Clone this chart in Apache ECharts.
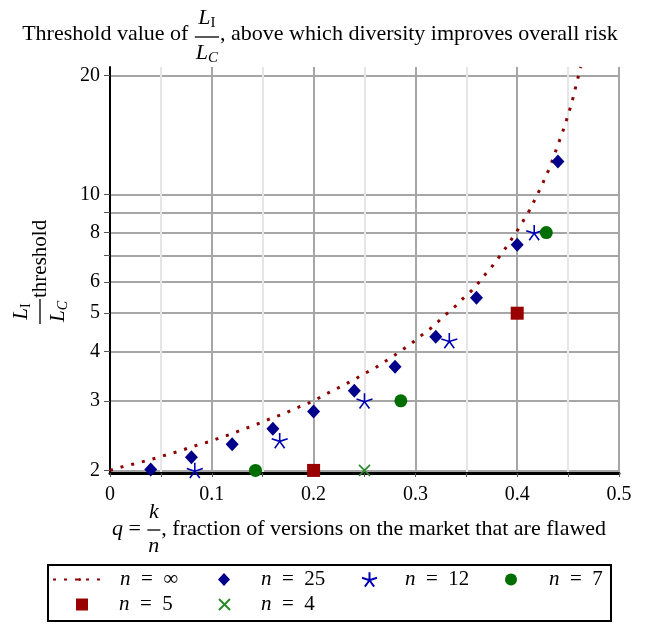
<!DOCTYPE html>
<html><head><meta charset="utf-8">
<script src="https://cdn.jsdelivr.net/npm/echarts@6/dist/echarts.min.js"></script>
<style>html,body{margin:0;padding:0;background:#fff}#c{width:646px;height:625px}</style>
</head><body><div id="c"></div>
<script>
// ---- data ----
const qInf = [0, 0.0126, 0.0234, 0.0346, 0.0447, 0.0553, 0.0661, 0.0765, 0.0873, 0.0978, 0.1084, 0.1185, 0.129, 0.1394, 0.1497, 0.160, 0.1706, 0.1807, 0.1906, 0.2004, 0.2109, 0.2207, 0.2306, 0.2404, 0.2502, 0.2601, 0.2692, 0.2788, 0.2879, 0.2965, 0.3053, 0.3142, 0.3223, 0.3306, 0.339, 0.3469, 0.3552, 0.3623, 0.3693, 0.376, 0.383, 0.3896, 0.3955, 0.4017, 0.4073, 0.4131, 0.4181, 0.423, 0.4275, 0.4319, 0.4357, 0.4393, 0.4433, 0.4469, 0.4502, 0.4535, 0.4561, 0.4587, 0.4614, 0.4625];
const vInf = [2.0, 2.045, 2.077, 2.113, 2.148, 2.19, 2.23, 2.276, 2.325, 2.366, 2.42, 2.47, 2.53, 2.59, 2.65, 2.72, 2.78, 2.86, 2.93, 3.0, 3.11, 3.20, 3.30, 3.40, 3.52, 3.63, 3.76, 3.90, 4.05, 4.20, 4.38, 4.56, 4.76, 4.98, 5.20, 5.45, 5.70, 5.98, 6.3, 6.6, 6.98, 7.37, 7.77, 8.21, 8.68, 9.20, 9.78, 10.38, 11.0, 11.68, 12.4, 13.2, 14.06, 14.96, 15.96, 16.97, 18.1, 19.26, 20.53, 21.0];
const q25 = [0.04, 0.08, 0.12, 0.16, 0.20, 0.24, 0.28, 0.32, 0.36, 0.40, 0.44];
const v25 = [2.01, 2.16, 2.33, 2.55, 2.82, 3.18, 3.66, 4.36, 5.47, 7.45, 12.1];
const q12 = [0.0833, 0.1667, 0.25, 0.3333, 0.4167];
const v12 = [2.0, 2.38, 3.0, 4.26, 8.0];
const q7 = [0.1429, 0.2857, 0.4286];
const v7 = [2.0, 3.0, 8.0];
const q5 = [0.2, 0.4];
const v5 = [2.0, 5.0];
const q4 = [0.25];
const v4 = [2.0];
const seriesNames = ['n = \u221e', 'n = 25', 'n = 12', 'n = 7', 'n = 5', 'n = 4'];
const yGridValues = [2, 3, 4, 5, 6, 7, 8, 9, 10, 20];
const yLabelValues = [2, 3, 4, 5, 6, 8, 10, 20];

// ---- helpers ----
const FF = "'Liberation Serif', 'Times New Roman', serif";
const mctx = document.createElement('canvas').getContext('2d');
function fnt(size, it) { return (it ? 'italic ' : '') + size + 'px ' + FF; }
function measure(s, size, it) { mctx.font = fnt(size, it); return mctx.measureText(s).width; }
function zip(a, b) { return a.map((v, i) => [v, b[i]]); }
function runW(run) { return run.reduce((w, p) => w + measure(p.s, p.size, p.it) + (p.gap || 0), 0); }
function drawRun(run, x, y, out) {
  for (const p of run) {
    out.push({ type: 'text', x: x, y: y + (p.dy || 0),
      style: { text: p.s, font: fnt(p.size, p.it), fill: '#000', align: 'left', verticalAlign: 'middle' } });
    x += measure(p.s, p.size, p.it) + (p.gap || 0);
  }
  return x;
}
function buildExpr(items) {
  const out = []; let x = 0;
  for (const it of items) {
    if (it.frac) {
      const nw = runW(it.num), dw = runW(it.den);
      const w = Math.max(nw, dw) + 2 * it.pad;
      drawRun(it.num, x + (w - nw) / 2, it.numY, out);
      drawRun(it.den, x + (w - dw) / 2, it.denY, out);
      out.push({ type: 'line', shape: { x1: x + 1, y1: it.barY, x2: x + w - 1, y2: it.barY },
        style: { stroke: '#000', lineWidth: 1.3 } });
      x += w;
    } else {
      x = drawRun([it], x, 0, out);
    }
  }
  return { children: out, width: x };
}

const TFS = 22;
const title = buildExpr([
  { s: 'Threshold value of ', size: TFS },
  { frac: true, pad: 2, numY: -16, denY: 19, barY: 3,
    num: [{ s: 'L', size: TFS, it: true }, { s: 'I', size: 15, dy: 5 }],
    den: [{ s: 'L', size: TFS, it: true }, { s: 'C', size: 15, it: true, dy: 5 }] },
  { s: ', above which diversity improves overall risk', size: TFS }
]);
const xName = buildExpr([
  { s: 'q', size: TFS, it: true }, { s: ' = ', size: TFS },
  { frac: true, pad: 2, numY: -17, denY: 17, barY: 1,
    num: [{ s: 'k', size: TFS, it: true }], den: [{ s: 'n', size: TFS, it: true }] },
  { s: ', fraction of versions on the market that are flawed', size: TFS }
]);
const yName = buildExpr([
  { frac: true, pad: 3, numY: -19, denY: 18, barY: 0,
    num: [{ s: 'L', size: 21, it: true }, { s: 'I', size: 14, dy: 5 }],
    den: [{ s: 'L', size: 21, it: true }, { s: 'C', size: 14, it: true, dy: 5 }] },
  { s: 'threshold', size: 21 }
]);

// star (asterisk) and cross symbols
const starPath = 'path://M0,-10L0,0M0,0L9.51,-3.09M0,0L5.88,8.09M0,0L-5.88,8.09M0,0L-9.51,-3.09';
const crossPath = 'path://M-5,-5L5,5M-5,5L5,-5';

const C_INF = '#8b0000', C25 = '#00008b', C12 = '#0000b4', C7 = '#006e00', C5 = '#990000', C4 = '#2a8a2a';
const LFS = 21;

function legendItem(name, left, top, iw, ih, spacer) {
  return {
    data: [name], left: left, top: top, orient: 'horizontal', padding: 0,
    itemWidth: iw, itemHeight: ih, selectedMode: false,
    formatter: (n) => '{s| }{i|n}{t|' + n.slice(1).replace(/ = /, '\u2002=\u2002') + '}',
    textStyle: { fontFamily: FF, fontSize: LFS, color: '#000',
      rich: { s: { width: spacer, fontSize: LFS, fontFamily: FF },
              i: { fontStyle: 'italic', fontSize: LFS, fontFamily: FF, color: '#000' },
              t: { fontSize: LFS, fontFamily: FF, color: '#000' } } }
  };
}

const chart = echarts.init(document.getElementById('c'), null, { renderer: 'canvas' });
chart.setOption({
  animation: false,
  backgroundColor: '#fff',
  grid: { left: 110, right: 27, top: 67, bottom: 152, containLabel: false },
  xAxis: {
    type: 'value', min: 0, max: 0.5, interval: 0.1,
    axisLine: { show: true, onZero: false, lineStyle: { color: '#000', width: 3 } },
    axisTick: { show: true, length: 4, lineStyle: { color: '#555', width: 1 } },
    minorTick: { show: true, splitNumber: 2, length: 4, lineStyle: { color: '#555', width: 1 } },
    splitLine: { show: true, lineStyle: { color: '#a6a6a6', width: 2 } },
    minorSplitLine: { show: true, lineStyle: { color: '#e6e6e6', width: 2 } },
    axisLabel: { fontFamily: FF, fontSize: 20, color: '#000', margin: 12,
      formatter: (v) => String(Math.round(v * 10) / 10) }
  },
  yAxis: {
    type: 'log', logBase: 10, min: 1.97, max: 21,
    axisLine: { show: true, lineStyle: { color: '#000', width: 2 } },
    axisTick: { show: true, length: 6, customValues: yGridValues, lineStyle: { color: '#555', width: 1 } },
    axisLabel: { fontFamily: FF, fontSize: 20, color: '#000', margin: 10, customValues: yLabelValues },
    splitLine: { show: true, lineStyle: { color: '#a6a6a6', width: 2 } },
    minorTick: { show: false }, minorSplitLine: { show: false }
  },
  legend: [
    legendItem(seriesNames[0], 52, 569, 53, 4, 9),
    legendItem(seriesNames[1], 218, 569, 12, 13, 26),
    legendItem(seriesNames[2], 361, 569, 15, 15, 23),
    legendItem(seriesNames[3], 505, 569, 12, 12, 27),
    legendItem(seriesNames[4], 76, 594, 12, 12, 26),
    legendItem(seriesNames[5], 218, 594, 11, 11, 26)
  ],
  graphic: [
    { type: 'group', x: 320 - title.width / 2, y: 34, children: title.children },
    { type: 'group', x: 359 - xName.width / 2, y: 529, children: xName.children },
    { type: 'group', x: 40, y: 325, rotation: Math.PI / 2, children: yName.children },
    { type: 'rect', shape: { x: 48, y: 565, width: 563, height: 56 },
      style: { fill: 'none', stroke: '#000', lineWidth: 2 }, z: 100 }
  ],
  series: [
    { name: seriesNames[0], type: 'line', data: zip(qInf, vInf), showSymbol: false, symbol: 'none',
      smooth: false, clip: true, z: 2,
      lineStyle: { color: C_INF, width: 3, type: [3, 8] }, itemStyle: { color: C_INF } },
    { name: seriesNames[1], type: 'scatter', data: zip(q25, v25), symbol: 'diamond', symbolSize: [13, 14],
      itemStyle: { color: C25, opacity: 1 }, z: 5 },
    { name: seriesNames[2], type: 'scatter', data: zip(q12, v12), symbol: starPath, symbolSize: 16,
      symbolKeepAspect: true,
      itemStyle: { color: 'rgba(0,0,0,0)', borderColor: C12, borderWidth: 1.6, opacity: 1 }, z: 5 },
    { name: seriesNames[3], type: 'scatter', data: zip(q7, v7), symbol: 'circle', symbolSize: 13,
      itemStyle: { color: C7, opacity: 1 }, z: 5 },
    { name: seriesNames[4], type: 'scatter', data: zip(q5, v5), symbol: 'rect', symbolSize: 13,
      itemStyle: { color: C5, opacity: 1 }, z: 5 },
    { name: seriesNames[5], type: 'scatter', data: zip(q4, v4), symbol: crossPath, symbolSize: 11,
      itemStyle: { color: 'rgba(0,0,0,0)', borderColor: C4, borderWidth: 1.6, opacity: 1 }, z: 5 }
  ]
});
</script>
</body></html>
